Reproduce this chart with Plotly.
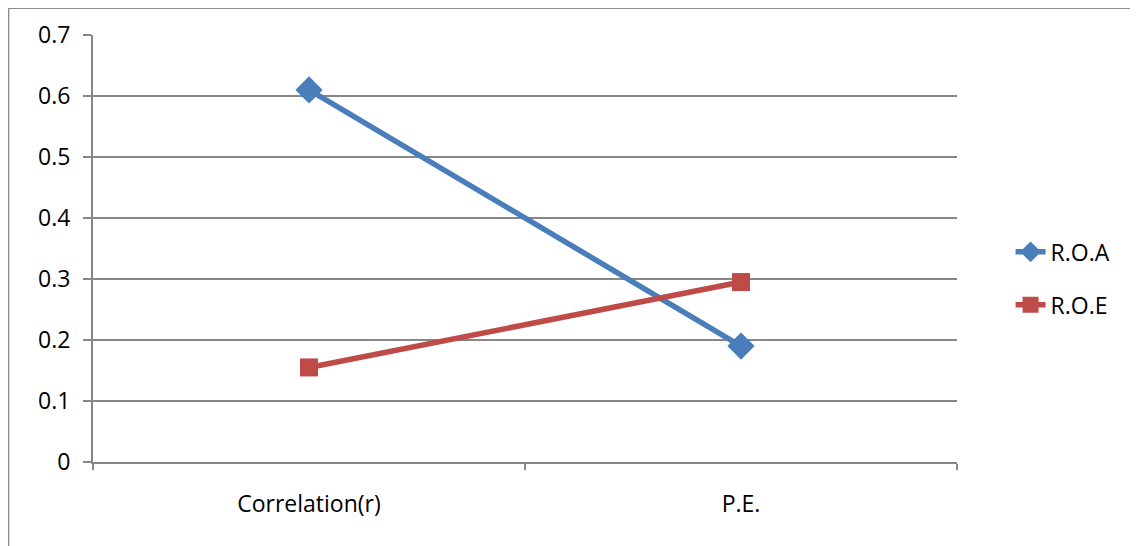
import plotly.graph_objects as go

categories = ["Correlation(r)", "P.E."]
roa = [0.61, 0.19]
roe = [0.155, 0.295]
y_ticks = [0, 0.1, 0.2, 0.3, 0.4, 0.5, 0.6, 0.7]

BLUE = "#4A7EBB"
RED = "#BE4B48"
GRID = "#878787"
FONT = "Open Sans"

fig = go.Figure()
fig.add_trace(go.Scatter(
    x=categories, y=roa, name="R.O.A", mode="lines+markers",
    line=dict(color=BLUE, width=5.5),
    marker=dict(symbol="diamond", size=21, color=BLUE),
    legendgroup="a",
))
fig.add_trace(go.Scatter(
    x=categories, y=roe, name="R.O.E", mode="lines+markers",
    line=dict(color=RED, width=5.5),
    marker=dict(symbol="square", size=18, color=RED),
    legendgroup="b",
))

fig.update_layout(
    width=1130, height=538,
    margin=dict(l=85, r=181, t=27, b=84, autoexpand=False),
    paper_bgcolor="white", plot_bgcolor="white",
    font=dict(family=FONT, size=23, color="black"),
    showlegend=True,
    legend=dict(x=1.062, y=0.43, xanchor="left", yanchor="middle",
                font=dict(size=23), tracegroupgap=20,
                bgcolor="rgba(0,0,0,0)"),
    xaxis=dict(
        type="category", tickson="boundaries", range=[-0.5, 1.5],
        showline=True, linecolor=GRID, linewidth=2,
        ticks="outside", ticklen=6, tickcolor=GRID, tickwidth=2,
        showgrid=False, zeroline=False, ticklabelstandoff=20,
    ),
    yaxis=dict(
        range=[0, 0.7], tickmode="array", tickvals=y_ticks,
        ticktext=[("%g" % v) for v in y_ticks],
        showline=True, linecolor=GRID, linewidth=2,
        ticks="outside", ticklen=8, tickcolor=GRID, tickwidth=2,
        showgrid=True, gridcolor=GRID, gridwidth=1.5,
        zeroline=False, ticklabelstandoff=8,
    ),
    shapes=[dict(type="rect", xref="paper", yref="paper",
                 x0=-0.098, x1=1.4, y0=-0.4, y1=1.063,
                 line=dict(color="#8c8c8c", width=2), layer="below")],
)

fig.write_html("out.html")
